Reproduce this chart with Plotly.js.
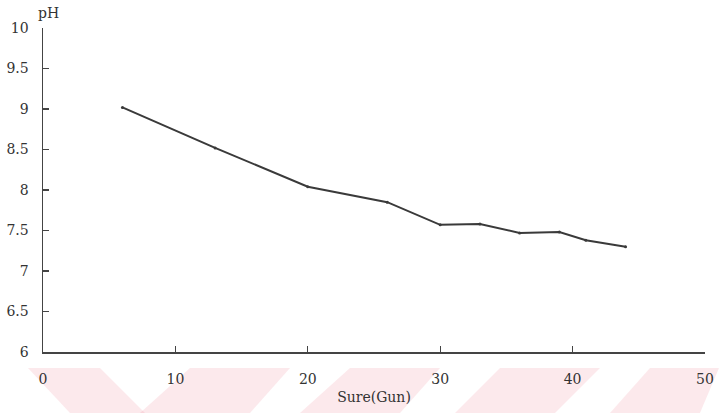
<!DOCTYPE html>
<html><head><meta charset="utf-8">
<script src="https://cdn.plot.ly/plotly-3.0.1.min.js"></script>
<style>html,body{margin:0;padding:0;background:#fff}#chart{width:719px;height:413px}</style>
</head><body><div id="chart"></div>
<script>
var days = [6, 13, 20, 26, 30, 33, 36, 39, 41, 44];
var phValues = [9.02, 8.52, 8.04, 7.85, 7.57, 7.58, 7.47, 7.48, 7.38, 7.30];
var xTicks = [0, 10, 20, 30, 40, 50];
var yTicks = [6, 6.5, 7, 7.5, 8, 8.5, 9, 9.5, 10];
var yTickText = ['6', '6.5', '7', '7.5', '8', '8.5', '9', '9.5', '10'];
var xTitle = 'Sure(Gun)';
var yTitle = 'pH';

var font = {family: 'DejaVu Serif, Liberation Serif, serif', size: 14, color: '#333'};

var trace = {
  x: days, y: phValues, type: 'scatter', mode: 'lines+markers',
  line: {color: '#3a3a3a', width: 2},
  marker: {color: '#3a3a3a', size: 3},
  hoverinfo: 'skip'
};

// faint watermark stripes below the plot (decoration)
var L = 43, T = 28, W = 662, H = 324;
function px(x) { return ((x - L) / W).toFixed(4); }
function py(y) { return ((T + H - y) / H).toFixed(4); }
function band(x1, x2, x3, x4) {
  return {type: 'path', xref: 'paper', yref: 'paper', layer: 'below',
    path: 'M' + px(x1) + ',' + py(368) + ' L' + px(x2) + ',' + py(368) +
          ' L' + px(x3) + ',' + py(413) + ' L' + px(x4) + ',' + py(413) + ' Z',
    fillcolor: 'rgba(235,120,135,0.16)', line: {width: 0}};
}
var stripes = [
  band(28, 100, 145, 70),
  band(190, 290, 250, 140),
  band(350, 440, 400, 300),
  band(500, 600, 555, 455),
  band(650, 719, 700, 610)
];

var layout = {
  width: 719, height: 413,
  margin: {l: 43, r: 14, t: 28, b: 61},
  paper_bgcolor: '#ffffff', plot_bgcolor: '#ffffff',
  showlegend: false,
  font: font,
  shapes: stripes,
  xaxis: {
    range: [0, 50], tickvals: xTicks, ticktext: xTicks.map(String),
    showgrid: false, zeroline: false, showline: true, linecolor: '#444', linewidth: 1.5,
    ticks: 'inside', ticklen: 6, tickcolor: '#444', tickwidth: 1.2,
    tickfont: font, fixedrange: true, ticklabelstandoff: 14,
    title: {text: xTitle, font: font, standoff: 6}
  },
  yaxis: {
    range: [6, 10], tickvals: yTicks, ticktext: yTickText,
    showgrid: false, zeroline: false, showline: true, linecolor: '#444', linewidth: 1.5,
    ticks: 'inside', ticklen: 6, tickcolor: '#444', tickwidth: 1.2,
    tickfont: font, fixedrange: true, ticklabelstandoff: 10
  },
  annotations: [{
    text: yTitle, xref: 'paper', yref: 'paper', x: 0, y: 1, xanchor: 'left', yanchor: 'bottom',
    xshift: -7, yshift: 5, showarrow: false, font: font
  }]
};

Plotly.newPlot('chart', [trace], layout, {displayModeBar: false, staticPlot: true});
</script>
</body></html>
